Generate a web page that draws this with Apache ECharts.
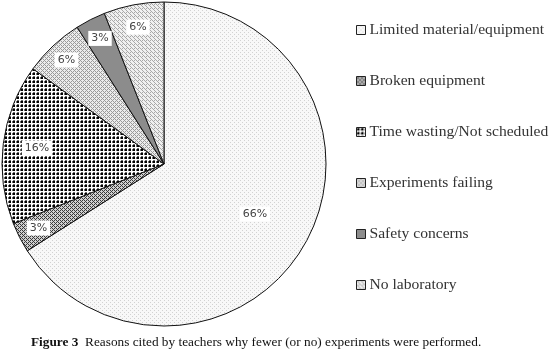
<!DOCTYPE html>
<html>
<head>
<meta charset="utf-8">
<script src="https://cdn.jsdelivr.net/npm/echarts@6/dist/echarts.min.js"></script>
<style>
  html, body { margin: 0; padding: 0; background: #fff; }
  #chart { width: 558px; height: 356px; }
</style>
</head>
<body>
<div id="chart"></div>
<script>
const categories = [
  'Limited material/equipment',
  'Broken equipment',
  'Time wasting/Not scheduled',
  'Experiments failing',
  'Safety concerns',
  'No laboratory'
];
const values = [66, 3, 16, 6, 3, 6];

// label distance from centre, as a fraction of the radius
const labelRadius = [0.64, 0.87, 0.79, 0.88, 0.87, 0.86];

const CX = 164, CY = 164, R = 162;

// small repeating fill patterns, like the print version
function pattern(size, bg, layers) {
  const c = document.createElement('canvas');
  c.width = size; c.height = size;
  const ctx = c.getContext('2d');
  ctx.fillStyle = bg;
  ctx.fillRect(0, 0, size, size);
  layers.forEach(([color, pixels]) => {
    ctx.fillStyle = color;
    pixels.forEach(([x, y]) => ctx.fillRect(x, y, 1, 1));
  });
  return { image: c, repeat: 'repeat' };
}

const fills = [
  pattern(4, '#f8f8f8', [['#d2d2d2', [[0, 0], [2, 2]]]]),
  pattern(4, '#d0d0d0', [['#3a3a3a', [[0, 0], [1, 1], [2, 2], [3, 3], [2, 0], [0, 2]]]]),
  pattern(4, '#ffffff', [
    ['#000000', [[1, 1], [2, 1], [1, 2], [2, 2]]],
    ['#6a6a6a', [[0, 1], [0, 2], [1, 0], [2, 0]]]
  ]),
  pattern(4, '#ececec', [['#9a9a9a', [[0, 0], [1, 1], [2, 2], [3, 3], [3, 1], [1, 3]]]]),
  pattern(4, '#8c8c8c', []),
  pattern(4, '#f0f0f0', [['#a8a8a8', [[0, 0], [1, 1], [2, 2], [3, 3], [2, 0]]]])
];

const chart = echarts.init(document.getElementById('chart'));

chart.setOption({
  animation: false,
  backgroundColor: '#fff',
  title: {
    left: 31,
    top: 336,
    padding: 0,
    text: '{b|Figure 3}  Reasons cited by teachers why fewer (or no) experiments were performed.',
    textStyle: {
      fontFamily: 'Liberation Serif',
      fontSize: 13.3,
      fontWeight: 'normal',
      color: '#111',
      rich: {
        b: { fontFamily: 'Liberation Serif', fontSize: 13.3, fontWeight: 'bold', color: '#111' }
      }
    }
  },
  legend: {
    orient: 'vertical',
    left: 351,
    top: 17,
    icon: 'rect',
    itemWidth: 9,
    itemHeight: 9,
    itemGap: 35,
    itemStyle: { borderColor: '#222', borderWidth: 1 },
    textStyle: { fontFamily: 'Liberation Serif', fontSize: 15.6, color: '#333', padding: [0, 0, 0, -1] },
    data: categories
  },
  series: [
    {
      type: 'pie',
      center: [CX, CY],
      radius: R,
      startAngle: 90,
      clockwise: true,
      silent: true,
      itemStyle: { borderColor: '#111', borderWidth: 1 },
      label: {
        position: 'inside',
        formatter: '{c}%',
        fontFamily: 'DejaVu Sans',
        fontSize: 11,
        color: '#444',
        backgroundColor: '#fff',
        padding: [2, 3]
      },
      labelLayout: function (params) {
        const r = params.labelRect;
        const lx = r.x + r.width / 2, ly = r.y + r.height / 2;
        const a = Math.atan2(ly - CY, lx - CX);
        const k = labelRadius[params.dataIndex] * R;
        return { x: CX + k * Math.cos(a), y: CY + k * Math.sin(a) };
      },
      data: categories.map((name, i) => ({
        name: name,
        value: values[i],
        itemStyle: { color: fills[i] }
      }))
    }
  ]
});
</script>
</body>
</html>
